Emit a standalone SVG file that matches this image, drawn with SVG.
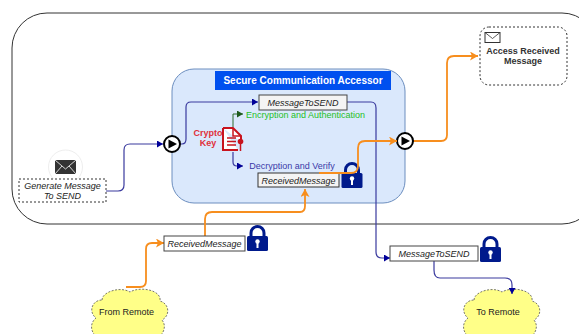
<svg xmlns="http://www.w3.org/2000/svg" width="579" height="334" viewBox="0 0 579 334">
<style>
text{font-family:"Liberation Sans",Arial,sans-serif;font-size:9px;fill:#222;text-anchor:middle}
.i{font-style:italic}
.b{font-weight:bold}
.box{fill:#fff;stroke:#444;stroke-width:1}
.dash{fill:#fff;stroke:#333;stroke-width:1;stroke-dasharray:2 2}
.cloud{fill:#ffff88;stroke:#555;stroke-width:.8;stroke-dasharray:2 1.5}
.navy{fill:none;stroke:#3a3a9e;stroke-width:1.2}
.org{fill:none;stroke:#f78e1e;stroke-width:1.8}
.grn{fill:none;stroke:#2d6a2d;stroke-width:1}
.play{fill:#fff;stroke:#000;stroke-width:2}
</style>
<defs>
<marker id="an" markerUnits="userSpaceOnUse" markerWidth="7" markerHeight="7" refX="6" refY="3.5" orient="auto"><path d="M0 0L6 3.5L0 7z" fill="#000099"/></marker>
<marker id="ag" markerUnits="userSpaceOnUse" markerWidth="7" markerHeight="7" refX="6" refY="3.5" orient="auto"><path d="M0 0L6 3.5L0 7z" fill="#1d5a1d"/></marker>
<marker id="ao" markerUnits="userSpaceOnUse" markerWidth="9" markerHeight="9" refX="8" refY="4.5" orient="auto"><path d="M0 0L8 4.5L0 9L2 4.5z" fill="#f78e1e"/></marker>
<g id="lock"><path d="M4 13V8a6.500 6.500 0 0 1 13 0v5" fill="none" stroke="#001a8c" stroke-width="3"/><rect x="0" y="11" width="21" height="15" rx="1.500" fill="#001a8c"/><circle cx="10.500" cy="16.500" r="2.200" fill="#fff"/><rect x="9.500" y="17" width="2" height="6" fill="#fff"/></g>
<path id="cl" d="M12 12C12 4 30 -2 40 4C50 -2 72 2 70 13C80 16 80 28 72 32C80 42 66 56 56 52C46 58 22 58 18 50C4 54 -4 38 6 30C-2 24 2 12 12 12z"/>
</defs>
<rect id="boundary" x="12" y="13" width="585" height="211" rx="35" fill="#fff" stroke="#333" stroke-width="1"/>
<g id="accessor"><rect x="172" y="69" width="233" height="134" rx="22" fill="#dae8fc" stroke="#6c8ebf"/><rect x="215" y="71" width="176" height="19" fill="#0050ef"/><text x="303" y="84" class="b" style="fill:#fff;font-size:10px">Secure Communication Accessor</text></g>
<g id="generate"><circle cx="65.500" cy="167" r="17" fill="#fff" stroke="#eee"/><rect x="55" y="160" width="21" height="14" fill="#333"/><path d="M55 160L65.500 169L76 160M55 174L62 166M76 174L69 166" fill="none" stroke="#fff" stroke-width=".8"/><rect class="dash" x="19" y="179" width="87" height="23"/><text x="62.500" y="188.500" class="i">Generate Message</text><text x="62.500" y="199" class="i">To SEND</text></g>
<g id="from-remote"><use href="#cl" class="cloud" x="90" y="288"/><text x="126.500" y="315">From Remote</text></g>
<g id="to-remote"><use href="#cl" class="cloud" x="462" y="288"/><text x="498" y="315">To Remote</text></g>
<g id="connectors">
<path class="navy" d="M106 191H118Q124 191 124 185V150Q124 144 130 144H163" marker-end="url(#an)"/>
<path class="navy" d="M180 144H182Q186 144 186 139V107Q186 102 191 102H258" marker-end="url(#an)"/>
<path class="navy" d="M347 102H371Q376 102 376 108V252Q376 258 382 258H390" marker-end="url(#an)"/>
<path class="navy" d="M434 261V270Q434 278 440 278H505Q512 278 512 285V294" marker-end="url(#an)"/>
<path class="grn" d="M233 127V114H243" marker-end="url(#ag)"/>
<path class="navy" d="M233 152V162Q233 166 237 166H243" marker-end="url(#an)"/>
<path class="org" d="M126 287H140Q146 287 146 281V249Q146 243 152 243H164" marker-end="url(#ao)"/>
<path class="org" d="M205 236V219Q205 212 212 212H300Q305 212 305 206V189" marker-end="url(#ao)"/>
<path class="org" d="M413 141H441Q447 141 447 135V63Q447 56 454 56H478" marker-end="url(#ao)"/>
</g>
<g id="play-in"><circle class="play" cx="172" cy="144" r="8"/><path d="M168.500 139.500L177 144L168.500 148.500z"/></g>
<g id="play-out"><circle class="play" cx="405" cy="141" r="8"/><path d="M401.500 136.500L410 141L401.500 145.500z"/></g>
<g id="msg-send"><rect x="259" y="95" width="88" height="15" fill="#f4f4f4" stroke="#444"/><text x="303" y="106" class="i">MessageToSEND</text></g>
<g id="encrypt"><text x="305.500" y="118" style="fill:#1fbf1f">Encryption and Authentication</text></g>
<g id="decrypt"><text x="292" y="169" style="fill:#3a3aa8">Decryption and Verify</text></g>
<g id="key"><text x="208" y="136" class="b" style="fill:#e0303a">Crypto</text><text x="208" y="146" class="b" style="fill:#e0303a">Key</text><path d="M223 128H233L241 136V142M223 128V150H238" fill="#fff" stroke="#c8141e" stroke-width="2"/><path d="M233 128V136H241" fill="none" stroke="#c8141e" stroke-width="1.500"/><path d="M227 138H236M227 141.500H236M227 145H236" stroke="#c8141e" stroke-width="1.300"/><circle cx="240.500" cy="141.500" r="2.800" fill="#c8141e"/><path d="M240.500 143V151" stroke="#c8141e" stroke-width="1.500"/></g>
<g id="msg-recv-inner"><rect x="258" y="173" width="81" height="14" fill="#f4f4f4" stroke="#333"/><text x="298.500" y="183.500" class="i">ReceivedMessage</text></g>
<use id="lock-inner" href="#lock" x="341.500" y="162"/>
<path class="org" d="M319 173H351Q358 173 358 166V148Q358 141 365 141H397" marker-end="url(#ao)"/>
<g id="msg-recv"><rect class="box" x="164" y="236" width="81" height="15"/><text x="204.500" y="246.500" class="i">ReceivedMessage</text></g>
<use id="lock-recv" href="#lock" x="247" y="225"/>
<g id="msg-out"><rect class="box" x="390" y="246" width="88" height="15"/><text x="434" y="256.500" class="i">MessageToSEND</text></g>
<use id="lock-out" href="#lock" x="480" y="236"/>
<g id="access"><rect class="dash" x="480" y="27" width="87" height="58" rx="9"/><rect x="485" y="32.500" width="15" height="10" fill="#fff" stroke="#333"/><path d="M485 32.500L492.500 38.500L500 32.500" fill="none" stroke="#333" stroke-width=".8"/><text x="523" y="53.500" class="b" style="fill:#333">Access Received</text><text x="523" y="64" class="b" style="fill:#333">Message</text></g>
</svg>
